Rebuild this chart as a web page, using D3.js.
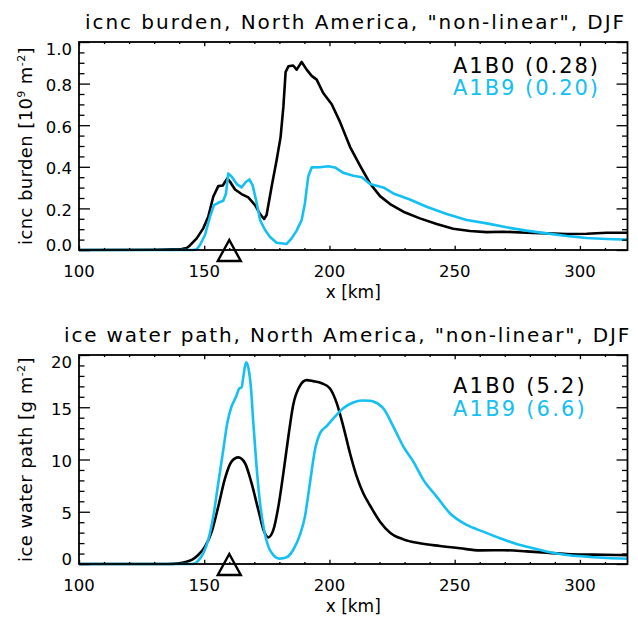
<!DOCTYPE html>
<html>
<head>
<meta charset="utf-8">
<script src="https://cdn.jsdelivr.net/npm/d3@7"></script>
<style>
  html, body { margin: 0; padding: 0; background: #fff; }
  svg { display: block; }
  text { font-family: "DejaVu Sans", sans-serif; fill: #000; }
</style>
</head>
<body>
<script>
// ---- data ----------------------------------------------------------------
const xTicksMajor = [100, 150, 200, 250, 300];
const burdenTicks = [0.0, 0.2, 0.4, 0.6, 0.8, 1.0];
const iwpTicks = [0, 5, 10, 15, 20];

// icnc burden [10^9 m^-2]
const burdenA1B0x = [100, 130, 137, 141, 143, 144.3, 147, 149.6, 151.6, 153.6, 155.6, 157.4, 159.2, 160.3, 162.3, 164.9, 167.6, 170.3, 172.3, 173.9, 174.9, 176.9, 178.9, 180.5, 181.6, 182.5, 183.6, 185.5, 186.9, 188.9, 190.9, 192.9, 194.9, 197.5, 200.9, 204.2, 208.2, 212.2, 216.2, 220.2, 224.2, 229.5, 236.1, 242.8, 249.4, 256.1, 262.8, 269.4, 278.7, 286.7, 294.7, 302.7, 310.7, 319];
const burdenA1B0 = [0, 0.001, 0.003, 0.005, 0.01, 0.022, 0.056, 0.104, 0.16, 0.256, 0.307, 0.31, 0.344, 0.328, 0.291, 0.269, 0.253, 0.216, 0.173, 0.149, 0.168, 0.304, 0.432, 0.544, 0.688, 0.856, 0.883, 0.887, 0.867, 0.904, 0.867, 0.837, 0.819, 0.755, 0.701, 0.616, 0.496, 0.406, 0.32, 0.259, 0.221, 0.184, 0.152, 0.125, 0.102, 0.091, 0.086, 0.088, 0.083, 0.08, 0.077, 0.078, 0.083, 0.083];

const burdenA1B9x = [100, 145.6, 147, 148.3, 150.3, 152.3, 153.9, 155.6, 157.6, 158.7, 159.6, 161, 163, 164.9, 166.7, 168, 169.3, 170.7, 172.3, 174.3, 176.2, 178.9, 182.9, 184.9, 186.9, 188.9, 190.2, 191.5, 192.9, 196.2, 199.5, 202.2, 205.5, 209.5, 212.9, 216.2, 221.5, 225.5, 232.1, 238.8, 246.8, 254.8, 262.8, 270.7, 278.7, 286.7, 294.7, 302.7, 310.7, 319];
const burdenA1B9 = [0, 0, 0.003, 0.024, 0.072, 0.16, 0.216, 0.227, 0.237, 0.272, 0.368, 0.352, 0.317, 0.301, 0.328, 0.339, 0.312, 0.24, 0.144, 0.096, 0.064, 0.035, 0.029, 0.056, 0.093, 0.144, 0.224, 0.352, 0.397, 0.398, 0.403, 0.397, 0.371, 0.357, 0.35, 0.317, 0.301, 0.272, 0.243, 0.208, 0.173, 0.144, 0.128, 0.109, 0.093, 0.08, 0.067, 0.058, 0.053, 0.05];

// ice water path [g m^-2]
const iwpA1B0x = [100, 135, 140, 142.5, 145, 147.6, 150.3, 153, 155.6, 158.3, 160.9, 163.6, 166.3, 168.9, 171.6, 173.9, 175.6, 177.6, 179.6, 181.6, 183.6, 185.5, 188.2, 190.9, 193.5, 196.9, 200.2, 202.9, 205.5, 208.2, 210.9, 213.5, 216.2, 220.2, 224.2, 229.5, 236.1, 244.1, 252.1, 260.1, 269.4, 278.7, 286.7, 294.7, 305.3, 319];
const iwpA1B0 = [0, 0, 0.08, 0.2, 0.4, 0.86, 1.66, 3.1, 5.49, 8.2, 9.8, 10.2, 9.64, 7.73, 5.17, 3.1, 2.55, 3.26, 5.49, 8.69, 12.2, 15.2, 17.05, 17.6, 17.5, 17.3, 16.8, 15.4, 13.2, 10.6, 8.36, 6.77, 5.6, 4.05, 3.0, 2.36, 1.98, 1.72, 1.5, 1.3, 1.32, 1.21, 1.08, 0.96, 0.9, 0.85];

const iwpA1B9x = [100, 145, 146.3, 147.6, 149.6, 151.6, 153.6, 155.6, 157.6, 159.2, 160.9, 162.7, 164, 164.9, 165.6, 166.7, 167.6, 168.7, 169.6, 170.9, 172.3, 173.9, 175.6, 177.6, 180.2, 182.9, 185.5, 188.2, 190.2, 192.2, 194.2, 196.2, 198.9, 202.2, 205.5, 209.5, 212.9, 216.2, 217.5, 221.5, 225.5, 229.5, 233.5, 237.5, 242.8, 248.1, 254.8, 261.4, 268.1, 274.7, 281.4, 288.1, 294.7, 302.7, 310.7, 319];
const iwpA1B9 = [0, 0, 0.05, 0.32, 1.02, 2.3, 4.53, 7.73, 10.9, 13.5, 15.07, 16.0, 16.8, 16.9, 17.9, 19.3, 18.8, 16.7, 13.5, 9.3, 5.8, 3.26, 1.66, 0.86, 0.51, 0.64, 1.34, 2.78, 4.53, 7.73, 10.9, 12.5, 13.2, 14.1, 14.9, 15.45, 15.64, 15.62, 15.55, 14.9, 13.15, 11.24, 9.8, 8.05, 6.45, 4.86, 3.74, 3.1, 2.46, 1.92, 1.5, 1.12, 0.86, 0.7, 0.57, 0.5];

const markerX = 160;
const legendTop = ["A1B0 (0.28)", "A1B9 (0.20)"];
const legendBottom = ["A1B0 (5.2)", "A1B9 (6.6)"];
const colors = ["#000000", "#14c0f2"];

// ---- layout ----------------------------------------------------------------
const W = 638, H = 617;
const svg = d3.select("body").append("svg").attr("width", W).attr("height", H);
svg.append("rect").attr("width", W).attr("height", H).attr("fill", "#fff");

const x = d3.scaleLinear().domain([100, 319]).range([79, 627.5]);

// widen a text's tracking so that it spans `target` pixels
function spread(sel, target) {
  const node = sel.node();
  const len = node.getComputedTextLength();
  const n = node.textContent.length;
  if (n > 0 && target > len) sel.attr("letter-spacing", ((target - len) / n).toFixed(3));
  return sel;
}

const panels = [
  {
    top: 42, bottom: 250, domain: [0, 1], ticks: burdenTicks, minorStep: 0.05,
    fmt: d3.format(".1f"),
    title: 'icnc burden, North America, "non-linear", DJF', titleX: 85, titleLen: 541,
    ylab: ["icnc burden [10", "9", " m", "-2", "]"], ylabSup: [1, 3], ylabLen: 198,
    series: [[burdenA1B0x, burdenA1B0], [burdenA1B9x, burdenA1B9]],
    curve: d3.curveLinear,
    legend: legendTop, legendX: 453, legendY: [73, 95], legendLen: 147
  },
  {
    top: 355, bottom: 564, domain: [0, 20], ticks: iwpTicks, minorStep: 1,
    fmt: d3.format("d"),
    title: 'ice water path, North America, "non-linear", DJF', titleX: 64, titleLen: 567,
    ylab: ["ice water path [g m", "-2", "]"], ylabSup: [1], ylabLen: 205,
    series: [[iwpA1B0x, iwpA1B0], [iwpA1B9x, iwpA1B9]],
    curve: d3.curveMonotoneX,
    legend: legendBottom, legendX: 453, legendY: [393, 416], legendLen: 134
  }
];

const xMinor = d3.range(100, 320, 10).filter(v => v % 50 !== 0);

panels.forEach(p => {
  const y = d3.scaleLinear().domain(p.domain).range([p.bottom, p.top]);
  const g = svg.append("g");
  const h = p.bottom - p.top, w = x.range()[1] - x.range()[0];
  const xTick = 0.02 * h, yTick = 0.02 * w;
  const yMinor = d3.range(p.domain[0], p.domain[1] + 1e-9, p.minorStep)
    .filter(v => !p.ticks.some(t => Math.abs(t - v) < 1e-9));

  // curves
  const line = d3.line().x(d => x(d[0])).y(d => y(d[1])).curve(p.curve);
  p.series.forEach((s, si) => {
    const pts = s[0].map((xv, i) => [xv, s[1][i]]);
    g.append("path").datum(pts).attr("d", line)
      .attr("fill", "none").attr("stroke", colors[si])
      .attr("stroke-width", 2.6).attr("stroke-linejoin", "round");
  });

  // axes: ticks point inward on all four sides
  const axStyle = sel => {
    sel.select(".domain").remove();
    sel.selectAll("line").attr("stroke", "#000").attr("stroke-width", 1.3);
  };
  const mkX = (gen, yPos, vals, len) => g.append("g")
    .attr("transform", `translate(0,${yPos})`)
    .call(gen(x).tickValues(vals).tickSize(len).tickFormat(""))
    .call(axStyle);
  mkX(d3.axisBottom, p.bottom, xTicksMajor, -xTick);
  mkX(d3.axisBottom, p.bottom, xMinor, -xTick / 2);
  mkX(d3.axisTop, p.top, xTicksMajor, -xTick);
  mkX(d3.axisTop, p.top, xMinor, -xTick / 2);

  const mkY = (gen, xPos, vals, len) => g.append("g")
    .attr("transform", `translate(${xPos},0)`)
    .call(gen(y).tickValues(vals).tickSize(len).tickFormat(""))
    .call(axStyle);
  mkY(d3.axisLeft, x.range()[0], p.ticks, -yTick);
  mkY(d3.axisLeft, x.range()[0], yMinor, -yTick / 2);
  mkY(d3.axisRight, x.range()[1], p.ticks, -yTick);
  mkY(d3.axisRight, x.range()[1], yMinor, -yTick / 2);

  // frame
  g.append("rect")
    .attr("x", x.range()[0]).attr("y", p.top)
    .attr("width", w).attr("height", h)
    .attr("fill", "none").attr("stroke", "#000").attr("stroke-width", 1.8);

  // tick labels
  g.selectAll(".xl").data(xTicksMajor).join("text")
    .attr("x", d => x(d)).attr("y", p.bottom + 27)
    .attr("text-anchor", "middle").attr("font-size", 16.5)
    .text(d => d);
  const last = p.ticks.length - 1;
  g.selectAll(".yl").data(p.ticks).join("text")
    .attr("x", 72)
    .attr("y", (d, i) => y(d) + 1.5 + (i === last ? 6 : 0) + (i === 0 ? -6.5 : 0))
    .attr("dy", "0.36em")
    .attr("text-anchor", "end").attr("font-size", 16.5)
    .text(d => p.fmt(d));

  // x axis title
  g.append("text")
    .attr("x", (x.range()[0] + x.range()[1]) / 2).attr("y", p.bottom + 48)
    .attr("text-anchor", "middle").attr("font-size", 17)
    .text("x [km]");

  // y axis title with superscripts
  const yt = g.append("text")
    .attr("transform", `translate(32,${(p.top + p.bottom) / 2}) rotate(-90)`)
    .attr("text-anchor", "middle").attr("font-size", 18);
  p.ylab.forEach((t, i) => {
    const sup = p.ylabSup.includes(i);
    yt.append("tspan").text(t)
      .attr("font-size", sup ? 11 : 18)
      .attr("dy", sup ? -7 : (i > 0 && p.ylabSup.includes(i - 1) ? 7 : 0));
  });
  spread(yt, p.ylabLen);

  // title
  spread(g.append("text")
    .attr("x", p.titleX).attr("y", p.top - 13)
    .attr("font-size", 20)
    .text(p.title), p.titleLen);

  // legend
  p.legend.forEach((t, i) => {
    spread(g.append("text")
      .attr("x", p.legendX).attr("y", p.legendY[i])
      .attr("font-size", 21)
      .style("fill", colors[i])
      .text(t), p.legendLen);
  });

  // triangle marker on the x axis
  const mx = x(markerX), my = y(0);
  g.append("path")
    .attr("d", d3.line()([[mx - 11.5, my + 11], [mx, my - 10], [mx + 11.5, my + 11]]) + "Z")
    .attr("fill", "none").attr("stroke", "#000").attr("stroke-width", 2.4)
    .attr("stroke-linejoin", "miter");
});
</script>
</body>
</html>
